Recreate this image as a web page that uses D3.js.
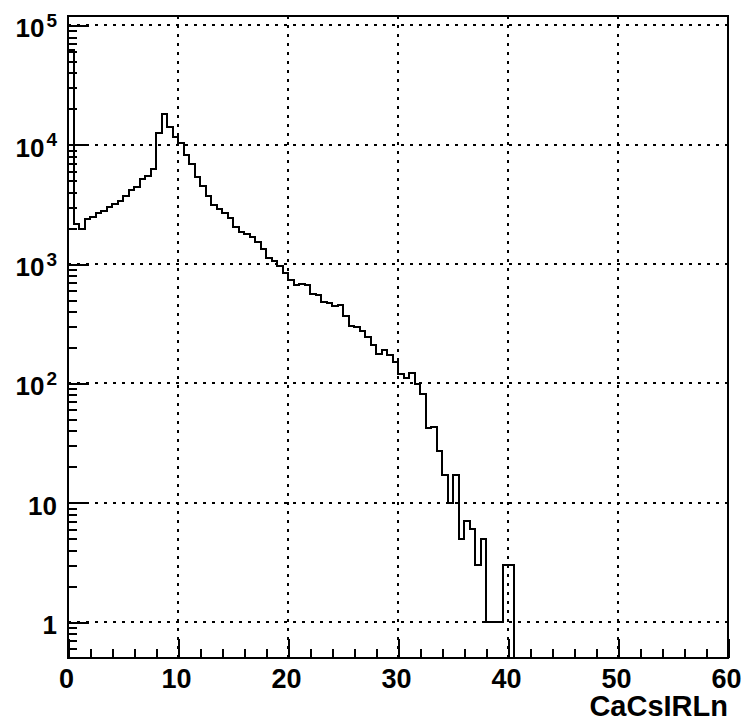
<!DOCTYPE html>
<html>
<head>
<meta charset="utf-8">
<script src="https://cdn.jsdelivr.net/npm/d3@7"></script>
<style>
  body { margin: 0; background: #fff; }
  svg { display: block; }
  text { font-family: "Liberation Sans", Arial, Helvetica, sans-serif; font-weight: bold; fill: #000; }
  .crisp { shape-rendering: crispEdges; }
</style>
</head>
<body>
<svg id="chart" width="747" height="722"></svg>
<script>
// Histogram of CaCsIRLn: 120 bins of width 0.5 from 0 to 60
const binLow = 0;
const binWidth = 0.5;
const counts = [
  62000, 2170, 1960, 2400, 2500, 2670, 2800, 3000, 3170, 3400,
  3750, 4200, 4450, 5150, 5500, 6300, 12500, 18000, 14200, 11700,
  10400, 8200, 6900, 5400, 4550, 3750, 3150, 2920, 2670, 2420,
  2060, 1870, 1780, 1680, 1540, 1330, 1120, 1060, 964, 840,
  736, 668, 675, 670, 561, 552, 478, 469, 448, 458,
  368, 304, 296, 273, 247, 211, 177, 190, 174, 150,
  121, 110, 123, 98, 82, 42, 43, 27, 17, 10,
  17, 5, 7, 6, 3, 5, 1, 1, 1, 3,
  3, 0, 0, 0, 0, 0, 0, 0, 0, 0,
  0, 0, 0, 0, 0, 0, 0, 0, 0, 0,
  0, 0, 0, 0, 0, 0, 0, 0, 0, 0,
  0, 0, 0, 0, 0, 0, 0, 0, 0, 0
];
const xTickValues = [0, 10, 20, 30, 40, 50, 60];
const xGridValues = [10, 20, 30, 40, 50];
const yTickExponents = [0, 1, 2, 3, 4, 5];
const xTitle = "CaCsIRLn";

const frame = { left: 68, right: 728, top: 16, bottom: 658 };
const svg = d3.select("#chart");

const x = d3.scaleLinear().domain([0, 60]).range([frame.left, frame.right]);
const y = d3.scaleLog().domain([0.5, 1.2e5]).range([frame.bottom, frame.top]).clamp(true);

// dotted grid
const grid = svg.append("g").attr("class", "crisp").attr("stroke", "#000").attr("stroke-width", 2)
  .attr("stroke-dasharray", "3,6").attr("fill", "none");
grid.selectAll("line.v").data(xGridValues).join("line")
  .attr("x1", d => x(d)).attr("x2", d => x(d))
  .attr("y1", frame.bottom).attr("y2", frame.top);
grid.selectAll("line.h").data(yTickExponents).join("line")
  .attr("x1", frame.left).attr("x2", frame.right)
  .attr("y1", d => y(Math.pow(10, d))).attr("y2", d => y(Math.pow(10, d)));

// histogram outline
const pts = [[x(binLow), frame.bottom]];
counts.forEach((c, i) => {
  const yy = c > 0 ? y(c) : frame.bottom;
  pts.push([x(binLow + i * binWidth), yy]);
  pts.push([x(binLow + (i + 1) * binWidth), yy]);
});
pts.push([x(binLow + counts.length * binWidth), frame.bottom]);
svg.append("path")
  .attr("class", "crisp")
  .attr("d", d3.line()(pts))
  .attr("fill", "none").attr("stroke", "#000").attr("stroke-width", 2)
  .attr("stroke-linejoin", "miter");

// x axis ticks (inside the frame)
const xMinor = d3.range(0, 61, 2).filter(v => v % 10 !== 0);
svg.append("g").attr("class", "crisp").attr("transform", `translate(0,${frame.bottom})`)
  .call(d3.axisBottom(x).tickValues(xTickValues).tickSizeInner(-19).tickSizeOuter(0).tickFormat(""))
  .call(g => g.select(".domain").remove())
  .call(g => g.selectAll(".tick line").attr("stroke-width", 2));
svg.append("g").attr("class", "crisp").attr("transform", `translate(0,${frame.bottom})`)
  .call(d3.axisBottom(x).tickValues(xMinor).tickSizeInner(-9.5).tickSizeOuter(0).tickFormat(""))
  .call(g => g.select(".domain").remove())
  .call(g => g.selectAll(".tick line").attr("stroke-width", 2));

// y axis ticks (log, inside the frame)
const yMajor = yTickExponents.map(e => Math.pow(10, e));
const yMinor = [];
for (let e = -1; e <= 5; e++) {
  for (let m = 2; m <= 9; m++) {
    const v = m * Math.pow(10, e);
    if (v > 0.5 && v < 1.2e5) yMinor.push(v);
  }
}
svg.append("g").attr("class", "crisp").attr("transform", `translate(${frame.left},0)`)
  .call(d3.axisLeft(y).tickValues(yMajor).tickSizeInner(-21).tickSizeOuter(0).tickFormat(""))
  .call(g => g.select(".domain").remove())
  .call(g => g.selectAll(".tick line").attr("stroke-width", 2));
svg.append("g").attr("class", "crisp").attr("transform", `translate(${frame.left},0)`)
  .call(d3.axisLeft(y).tickValues(yMinor).tickSizeInner(-9).tickSizeOuter(0).tickFormat(""))
  .call(g => g.select(".domain").remove())
  .call(g => g.selectAll(".tick line").attr("stroke-width", 2));

// frame
svg.append("rect")
  .attr("class", "crisp")
  .attr("x", frame.left).attr("y", frame.top)
  .attr("width", frame.right - frame.left).attr("height", frame.bottom - frame.top)
  .attr("fill", "none").attr("stroke", "#000").attr("stroke-width", 2);

// x labels
svg.append("g").selectAll("text").data(xTickValues).join("text")
  .attr("x", d => x(d) - 1.5).attr("y", 688)
  .attr("text-anchor", "middle").attr("font-size", 27)
  .text(d => d);

// y labels: 1, 10, then 10^n with superscript
const yl = svg.append("g");
yTickExponents.forEach(e => {
  const ty = y(Math.pow(10, e));
  const t = yl.append("text").attr("x", 57).attr("y", ty + 12)
    .attr("text-anchor", "end").attr("font-size", 26);
  if (e <= 1) {
    t.text(e === 0 ? "1" : "10");
  } else {
    t.append("tspan").text("10");
    t.append("tspan").attr("dx", 2).attr("dy", -10.5).attr("font-size", 19).text(e);
  }
});

// axis title
svg.append("text")
  .attr("x", frame.right).attr("y", 716)
  .attr("text-anchor", "end").attr("font-size", 29)
  .text(xTitle);
</script>
</body>
</html>
